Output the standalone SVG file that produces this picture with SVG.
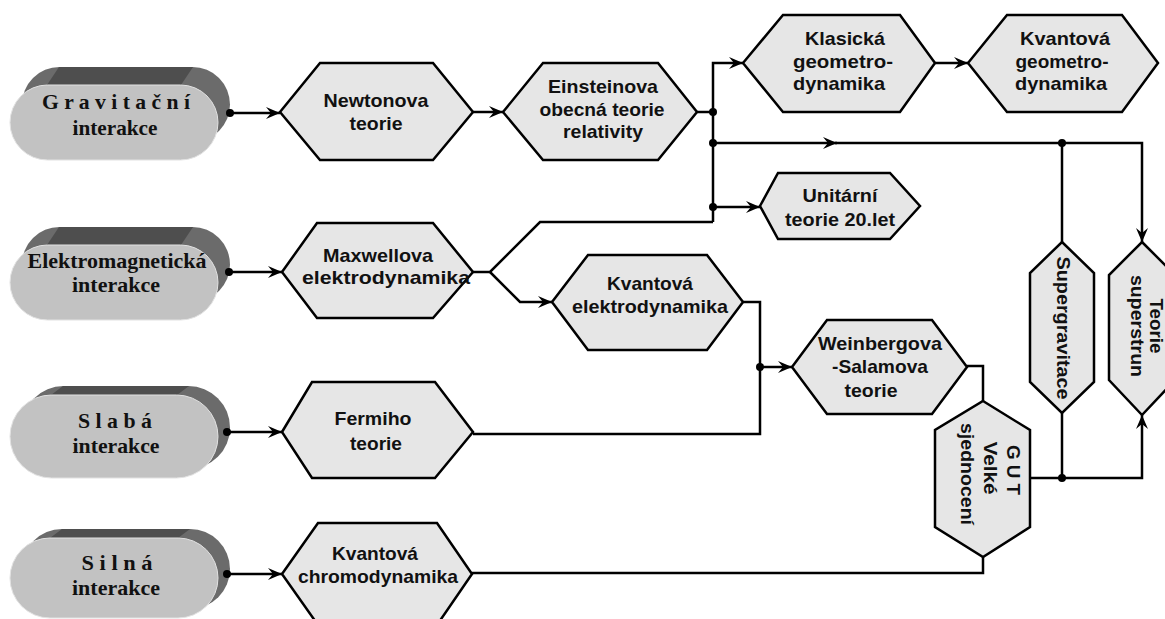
<svg xmlns="http://www.w3.org/2000/svg" width="1165" height="619" viewBox="0 0 1165 619">
<style>
.hex{fill:#e6e6e6;stroke:#000;stroke-width:2.5;stroke-linejoin:miter}
.h{font-family:"Liberation Sans",Arial,sans-serif;font-weight:bold;font-size:19px;text-anchor:middle;fill:#111}
.p{font-family:"Liberation Serif","Times New Roman",serif;font-weight:bold;font-size:21px;text-anchor:middle;fill:#111}
.back{fill:#6b6b6b}
.top{fill:#4e4e4e}
.front{fill:#c2c2c2;stroke:#e2e2e2;stroke-width:1}
.c{fill:none;stroke:#000;stroke-width:2.5}
.a{marker-end:url(#arr)}
.d{fill:#000}
</style>
<defs>
<marker id="arr" markerWidth="16" markerHeight="14" refX="14" refY="7" orient="auto" markerUnits="userSpaceOnUse" viewBox="0 0 16 14">
<path d="M0,1 L14,7 L0,13 L5,7 Z" fill="#000"/>
</marker>
</defs>
<rect width="1165" height="619" fill="#fff"/>

<!-- Pills -->
<g id="gravitacni">
<rect class="back" x="22" y="67" width="208" height="75" rx="37.5"/>
<polygon class="top" points="47,85 181,85 193,67 59,67"/>
<rect class="front" x="10" y="85" width="208" height="75" rx="37.5"/>
<text class="p" x="116" y="109" textLength="148" lengthAdjust="spacingAndGlyphs">G r a v i t a č n í</text>
<text class="p" x="115" y="135" textLength="85" lengthAdjust="spacingAndGlyphs">interakce</text>
</g>
<g id="elektromagneticka">
<rect class="back" x="22" y="227" width="208" height="75" rx="37.5"/>
<polygon class="top" points="47,245 181,245 193,227 59,227"/>
<rect class="front" x="10" y="245" width="208" height="75" rx="37.5"/>
<text class="p" x="117" y="268" textLength="179" lengthAdjust="spacingAndGlyphs">Elektromagnetická</text>
<text class="p" x="116" y="292" textLength="88" lengthAdjust="spacingAndGlyphs">interakce</text>
</g>
<g id="slaba">
<rect class="back" x="22" y="386" width="208" height="83" rx="41.5"/>
<polygon class="top" points="51,395 177,395 189,386 63,386"/>
<rect class="front" x="10" y="395" width="208" height="83" rx="41.5"/>
<text class="p" x="115" y="428" textLength="74" lengthAdjust="spacingAndGlyphs">S l a b á</text>
<text class="p" x="116" y="453" textLength="87" lengthAdjust="spacingAndGlyphs">interakce</text>
</g>
<g id="silna">
<rect class="back" x="22" y="529" width="208" height="80" rx="40"/>
<polygon class="top" points="50,538 178,538 190,529 62,529"/>
<rect class="front" x="10" y="538" width="208" height="80" rx="40"/>
<text class="p" x="117" y="570" textLength="71" lengthAdjust="spacingAndGlyphs">S i l n á</text>
<text class="p" x="116" y="595" textLength="88" lengthAdjust="spacingAndGlyphs">interakce</text>
</g>

<!-- Hexagon nodes -->
<g id="newtonova">
<polygon class="hex" points="280,112 320,63 433,63 473,112 433,160 320,160"/>
<text class="h" x="376" y="107" textLength="105" lengthAdjust="spacingAndGlyphs">Newtonova</text>
<text class="h" x="376" y="130" textLength="53" lengthAdjust="spacingAndGlyphs">teorie</text>
</g>
<g id="einsteinova">
<polygon class="hex" points="503,112 543,63 658,63 697,112 658,160 543,160"/>
<text class="h" x="603" y="93" textLength="110" lengthAdjust="spacingAndGlyphs">Einsteinova</text>
<text class="h" x="602" y="116" textLength="125" lengthAdjust="spacingAndGlyphs">obecná teorie</text>
<text class="h" x="603" y="138" textLength="80" lengthAdjust="spacingAndGlyphs">relativity</text>
</g>
<g id="klasicka">
<polygon class="hex" points="743,63 783,15 900,15 935,63 900,112 783,112"/>
<text class="h" x="845" y="45" textLength="80" lengthAdjust="spacingAndGlyphs">Klasická</text>
<text class="h" x="843" y="68" textLength="100" lengthAdjust="spacingAndGlyphs">geometro-</text>
<text class="h" x="839" y="90" textLength="92" lengthAdjust="spacingAndGlyphs">dynamika</text>
</g>
<g id="kvantova-geo">
<polygon class="hex" points="968,63 1007,15 1122,15 1158,63 1122,112 1007,112"/>
<text class="h" x="1065" y="45" textLength="90" lengthAdjust="spacingAndGlyphs">Kvantová</text>
<text class="h" x="1062" y="68" textLength="93" lengthAdjust="spacingAndGlyphs">geometro-</text>
<text class="h" x="1061" y="90" textLength="92" lengthAdjust="spacingAndGlyphs">dynamika</text>
</g>
<g id="unitarni">
<polygon class="hex" points="760,206 778,173 890,173 920,206 890,239 778,239"/>
<text class="h" x="840" y="202" textLength="75" lengthAdjust="spacingAndGlyphs">Unitární</text>
<text class="h" x="840" y="226" textLength="110" lengthAdjust="spacingAndGlyphs">teorie 20.let</text>
</g>
<g id="maxwellova">
<polygon class="hex" points="282,272 317,223 433,223 473,272 433,318 317,318"/>
<text class="h" x="378" y="262" textLength="110" lengthAdjust="spacingAndGlyphs">Maxwellova</text>
<text class="h" x="386" y="284" textLength="168" lengthAdjust="spacingAndGlyphs">elektrodynamika</text>
</g>
<g id="qed">
<polygon class="hex" points="552,302 588,255 707,255 743,302 707,350 588,350"/>
<text class="h" x="650" y="290" textLength="86" lengthAdjust="spacingAndGlyphs">Kvantová</text>
<text class="h" x="650" y="313" textLength="156" lengthAdjust="spacingAndGlyphs">elektrodynamika</text>
</g>
<g id="weinberg">
<polygon class="hex" points="792,367 827,320 932,320 967,367 932,414 827,414"/>
<text class="h" x="880" y="350" textLength="124" lengthAdjust="spacingAndGlyphs">Weinbergova</text>
<text class="h" x="880" y="373" textLength="96" lengthAdjust="spacingAndGlyphs">-Salamova</text>
<text class="h" x="871" y="397" textLength="53" lengthAdjust="spacingAndGlyphs">teorie</text>
</g>
<g id="fermiho">
<polygon class="hex" points="282,432 312,382 435,382 473,432 435,478 312,478"/>
<text class="h" x="373" y="425" textLength="77" lengthAdjust="spacingAndGlyphs">Fermiho</text>
<text class="h" x="376" y="450" textLength="52" lengthAdjust="spacingAndGlyphs">teorie</text>
</g>
<g id="chromo">
<polygon class="hex" points="282,574 318,523 437,523 472,574 437,625 318,625"/>
<text class="h" x="375" y="560" textLength="86" lengthAdjust="spacingAndGlyphs">Kvantová</text>
<text class="h" x="378" y="583" textLength="160" lengthAdjust="spacingAndGlyphs">chromodynamika</text>
</g>
<g id="gut">
<polygon class="hex" points="983,401 1030,430 1030,527 983,557 935,527 935,430"/>
<g transform="translate(983,474) rotate(90)">
<text class="h" x="-4" y="-24" textLength="50" lengthAdjust="spacingAndGlyphs">G U T</text>
<text class="h" x="-6" y="-1" textLength="53" lengthAdjust="spacingAndGlyphs">Velké</text>
<text class="h" x="0" y="22" textLength="102" lengthAdjust="spacingAndGlyphs">sjednocení</text>
</g>
</g>
<g id="supergravitace">
<polygon class="hex" points="1062,242 1094,273 1094,382 1062,413 1030,382 1030,273"/>
<g transform="translate(1062,328) rotate(90)">
<text class="h" x="0" y="5" textLength="143" lengthAdjust="spacingAndGlyphs">Supergravitace</text>
</g>
</g>
<g id="superstrun">
<polygon class="hex" points="1142,242 1175,275 1175,380 1142,415 1109,380 1109,275"/>
<g transform="translate(1142,326) rotate(90)">
<text class="h" x="0" y="-8" textLength="55" lengthAdjust="spacingAndGlyphs">Teorie</text>
<text class="h" x="0" y="11" textLength="102" lengthAdjust="spacingAndGlyphs">superstrun</text>
</g>
</g>

<!-- Connectors -->
<g id="connectors">
<path class="c a" d="M230,113 H280"/>
<path class="c a" d="M473,112 H503"/>
<path class="c" d="M697,112 H713"/>
<path class="c a" d="M713,222 V63 H743"/>
<path class="c a" d="M935,63 H968"/>
<path class="c a" d="M713,143 H837"/>
<path class="c a" d="M835,143 H1142 V242"/>
<path class="c" d="M1062,143 V242"/>
<path class="c a" d="M713,207 H760"/>
<path class="c a" d="M229,272 H282"/>
<path class="c" d="M473,272 H490 L540,222 H713"/>
<path class="c a" d="M490,272 L520,302 H552"/>
<path class="c" d="M473,434 H760 V302 H743"/>
<path class="c a" d="M760,367 H792"/>
<path class="c a" d="M227,432 H282"/>
<path class="c" d="M967,366 H983 V401"/>
<path class="c" d="M472,573 H983 V557"/>
<path class="c a" d="M1030,478 H1142 V415"/>
<path class="c" d="M1062,478 V413"/>
<path class="c a" d="M227,574 H282"/>
<circle class="d" cx="230" cy="113" r="4"/>
<circle class="d" cx="229" cy="272" r="4"/>
<circle class="d" cx="227" cy="432" r="4"/>
<circle class="d" cx="227" cy="574" r="4"/>
<circle class="d" cx="713" cy="112" r="4"/>
<circle class="d" cx="713" cy="143" r="4"/>
<circle class="d" cx="713" cy="207" r="4"/>
<circle class="d" cx="760" cy="367" r="4"/>
<circle class="d" cx="1062" cy="143" r="4"/>
<circle class="d" cx="1062" cy="478" r="4"/>
</g>
</svg>
